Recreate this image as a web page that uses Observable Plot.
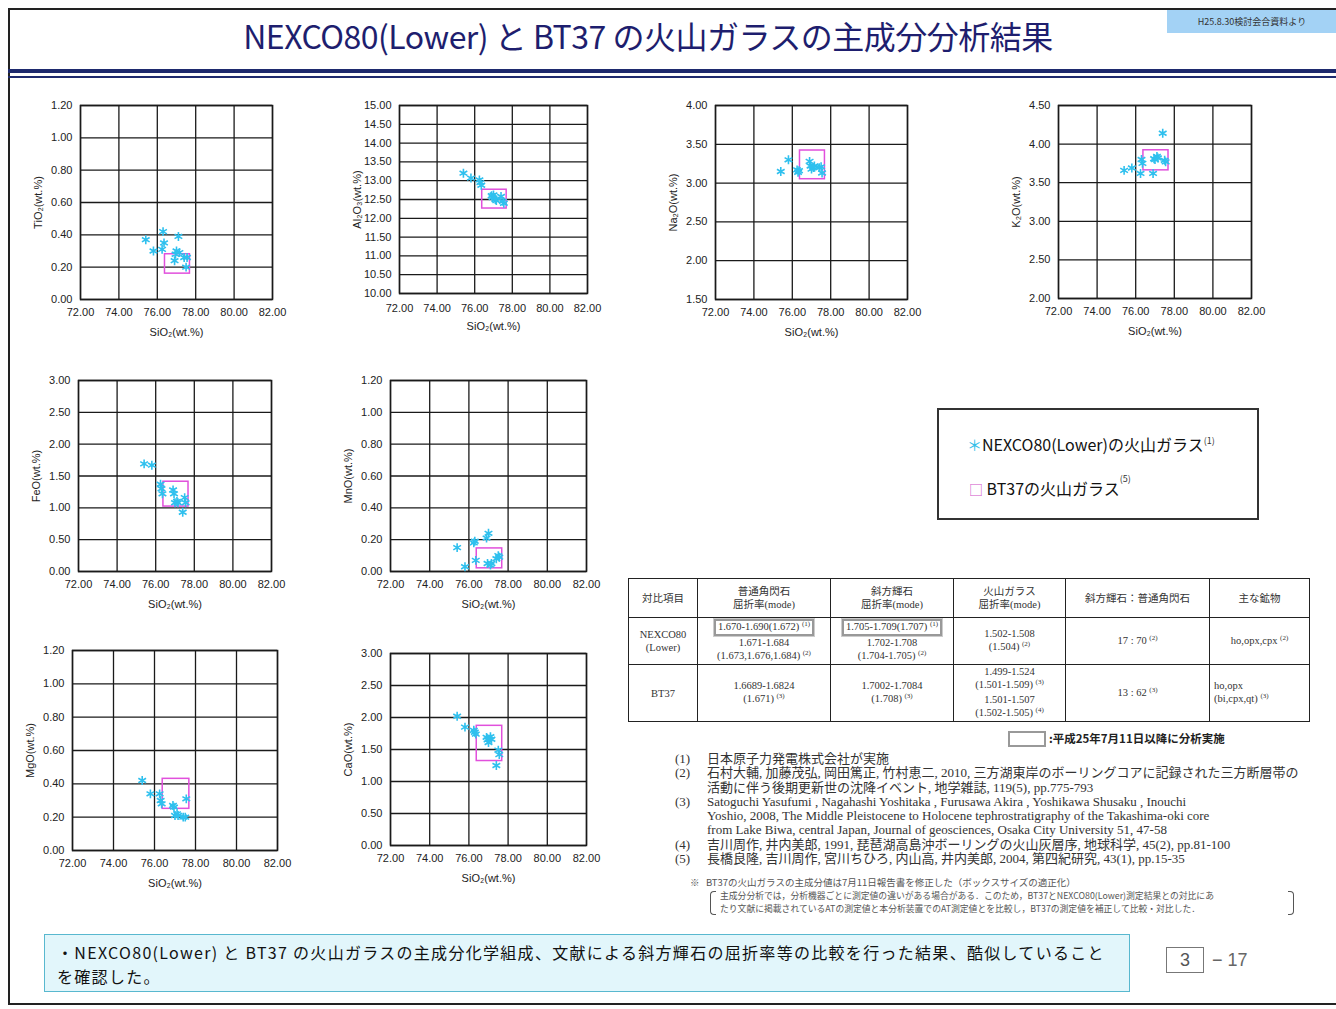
<!DOCTYPE html>
<html><head><meta charset="utf-8">
<script src="https://cdn.jsdelivr.net/npm/d3@7"></script>
<script src="https://cdn.jsdelivr.net/npm/@observablehq/plot@0.6"></script>
<style>
body{margin:0;background:#fff;}
#page{position:relative;width:1336px;height:1009px;overflow:hidden;background:#fff;font-family:"Liberation Sans",Arial,"Noto Sans CJK JP",sans-serif;color:#111;}
.abs{position:absolute;}
#title{left:0;width:1296px;top:12px;text-align:center;font-family:"Noto Sans CJK JP",sans-serif;font-size:32px;color:#1e1e6e;white-space:nowrap;letter-spacing:-0.5px;}
#badge{left:1167px;top:10px;width:170px;height:23px;background:#a3d2f5;font-family:"Noto Sans CJK JP";font-size:9px;line-height:23px;text-align:center;color:#333;}
#legend{left:937px;top:408px;width:318px;height:108px;border:2px solid #333;font-family:"Noto Sans CJK JP";font-size:16px;color:#111;}
.sup{font-size:9px;position:relative;top:-7px;color:#333;}
table#tbl{left:628px;top:578px;width:682px;border-collapse:collapse;font-family:"Liberation Serif","Noto Sans CJK JP",serif;font-size:10.5px;color:#333;line-height:13px;}
#tbl td{border:1.5px solid #222;text-align:center;padding:0;}
#tbl .tsup{font-size:7px;position:relative;top:-4px;}
.hl{display:inline-block;border:2px solid #999;outline:1px solid #ccc;padding:0 2px;line-height:11px;}
#refs{left:675px;top:752px;font-family:"Liberation Serif","Noto Sans CJK JP",serif;font-size:13px;line-height:14.3px;color:#333;white-space:nowrap;}
#refs .n{display:inline-block;width:32px;}
#refs .c{display:inline-block;vertical-align:top;}
#note{left:690px;top:876px;font-family:"Noto Sans CJK JP";font-size:9.5px;color:#555;white-space:nowrap;line-height:13px;}
#bottom{left:44px;top:934px;width:1084px;height:56px;background:#e2f6fb;border:1.5px solid #58b8cf;font-family:"Noto Sans CJK JP";font-size:16px;letter-spacing:1.3px;color:#111;padding:0;}
#bottom .ln{position:absolute;left:12px;white-space:nowrap;height:24px;line-height:24px;}
</style></head><body><div id="page">
<div class="abs" style="left:8px;top:8px;width:1340px;height:997px;border:2px solid #222;box-sizing:border-box;"></div>
<div class="abs" style="left:8px;top:69px;width:1330px;height:4px;background:#1e2a6e;"></div>
<div class="abs" style="left:8px;top:76px;width:1330px;height:1.5px;background:#1e2a6e;"></div>
<div id="title" class="abs">NEXCO80(Lower) と BT37 の火山ガラスの主成分分析結果</div>
<div id="badge" class="abs">H25.8.30検討会合資料より</div>

<div id="legend" class="abs">
 <div class="abs" style="left:28px;top:22px;white-space:nowrap;"><span style="color:#33bfe8;font-size:15px;">＊</span>NEXCO80(Lower)の火山ガラス<span class="sup">(1)</span></div>
 <div class="abs" style="left:30px;top:66px;white-space:nowrap;"><span style="color:#d050c8;font-size:14px;">□</span> BT37の火山ガラス<span class="sup" style="top:-13px;">(5)</span></div>
</div>

<table id="tbl" class="abs">
<colgroup><col style="width:69px"><col style="width:133px"><col style="width:123px"><col style="width:112px"><col style="width:144px"><col style="width:100px"></colgroup>
<tr style="height:39px"><td>対比項目</td><td>普通角閃石<br>屈折率(mode)</td><td>斜方輝石<br>屈折率(mode)</td><td>火山ガラス<br>屈折率(mode)</td><td>斜方輝石：普通角閃石</td><td>主な鉱物</td></tr>
<tr style="height:47px"><td>NEXCO80<br>(Lower)</td>
<td><span class="hl">1.670-1.690(1.672) <span class="tsup">(1)</span></span><br>1.671-1.684<br>(1.673,1.676,1.684) <span class="tsup">(2)</span></td>
<td><span class="hl">1.705-1.709(1.707) <span class="tsup">(1)</span></span><br>1.702-1.708<br>(1.704-1.705) <span class="tsup">(2)</span></td>
<td>1.502-1.508<br>(1.504) <span class="tsup">(2)</span></td>
<td>17 : 70 <span class="tsup">(2)</span></td>
<td>ho,opx,cpx <span class="tsup">(2)</span></td></tr>
<tr style="height:54px"><td>BT37</td>
<td>1.6689-1.6824<br>(1.671) <span class="tsup">(3)</span></td>
<td>1.7002-1.7084<br>(1.708) <span class="tsup">(3)</span></td>
<td>1.499-1.524<br>(1.501-1.509) <span class="tsup">(3)</span><br>1.501-1.507<br>(1.502-1.505) <span class="tsup">(4)</span></td>
<td>13 : 62 <span class="tsup">(3)</span></td>
<td style="text-align:left;padding-left:4px;">ho,opx<br>(bi,cpx,qt) <span class="tsup">(3)</span></td></tr>
</table>
<div class="abs" style="left:1008px;top:731px;width:34px;height:12px;border:2px solid #999;"></div>
<div class="abs" style="left:1049px;top:730px;font-family:'Noto Sans CJK JP';font-size:11.5px;font-weight:bold;color:#222;white-space:nowrap;line-height:17px;">:平成25年7月11日以降に分析実施</div>

<div id="refs" class="abs">
<div><span class="n">(1)</span><span class="c">日本原子力発電株式会社が実施</span></div>
<div><span class="n">(2)</span><span class="c">石村大輔, 加藤茂弘, 岡田篤正, 竹村恵二, 2010, 三方湖東岸のボーリングコアに記録された三方断層帯の<br>活動に伴う後期更新世の沈降イベント, 地学雑誌, 119(5), pp.775-793</span></div>
<div><span class="n">(3)</span><span class="c">Satoguchi Yasufumi , Nagahashi Yoshitaka , Furusawa Akira , Yoshikawa Shusaku , Inouchi<br>Yoshio, 2008, The Middle Pleistocene to Holocene tephrostratigraphy of the Takashima-oki core<br>from Lake Biwa, central Japan, Journal of geosciences, Osaka City University 51, 47-58</span></div>
<div><span class="n">(4)</span><span class="c">吉川周作, 井内美郎, 1991, 琵琶湖高島沖ボーリングの火山灰層序, 地球科学, 45(2), pp.81-100</span></div>
<div><span class="n">(5)</span><span class="c">長橋良隆, 吉川周作, 宮川ちひろ, 内山高, 井内美郎, 2004, 第四紀研究, 43(1), pp.15-35</span></div>
</div>
<div id="note" class="abs">
<div>※&nbsp;&nbsp;&nbsp;BT37の火山ガラスの主成分値は7月11日報告書を修正した（ボックスサイズの適正化）</div>
<div style="padding-left:30px;font-size:8.8px;">主成分分析では，分析機器ごとに測定値の違いがある場合がある．このため，BT37とNEXCO80(Lower)測定結果との対比にあ</div>
<div style="padding-left:30px;font-size:8.8px;">たり文献に掲載されているATの測定値と本分析装置でのAT測定値とを比較し，BT37の測定値を補正して比較・対比した．</div>
</div>
<div class="abs" style="left:710px;top:891px;width:5px;height:22px;border:1.5px solid #555;border-right:none;border-radius:4px 0 0 4px;"></div>
<div class="abs" style="left:1288px;top:891px;width:5px;height:22px;border:1.5px solid #555;border-left:none;border-radius:0 4px 4px 0;"></div>

<div id="bottom" class="abs">
 <div class="ln" style="top:5px;">・NEXCO80(Lower) と BT37 の火山ガラスの主成分化学組成、文献による斜方輝石の屈折率等の比較を行った結果、酷似していること</div>
 <div class="ln" style="top:29px;">を確認した。</div>
</div>
<div class="abs" style="left:1166px;top:947px;width:36px;height:24px;border:1.5px solid #777;text-align:center;font-size:18px;line-height:24px;color:#555;">3</div>
<div class="abs" style="left:1212px;top:947px;font-size:18px;line-height:26px;color:#666;white-space:nowrap;">− 17</div>
</div>
<script>
// NEXCO80(Lower) volcanic glass, major elements (wt.%)
const sio2  = [75.4, 75.8, 76.25, 76.3, 76.35, 76.9, 76.95, 77.0, 77.1, 77.15, 77.4, 77.5, 77.55];
const tio2  = [0.37, 0.30, 0.31, 0.42, 0.35, 0.24, 0.28, 0.30, 0.39, 0.29, 0.26, 0.20, 0.26];
const al2o3 = [13.20, 13.07, 13.02, 12.95, 12.88, 12.60, 12.55, 12.62, 12.50, 12.47, 12.58, 12.45, 12.40];
const na2o  = [3.15, 3.30, 3.17, 3.14, 3.16, 3.28, 3.22, 3.18, 3.20, 3.22, 3.20, 3.21, 3.13];
const k2o   = [3.66, 3.69, 3.62, 3.80, 3.75, 3.62, 3.81, 3.80, 3.84, 3.82, 4.14, 3.79, 3.77];
const feo   = [1.69, 1.67, 1.37, 1.30, 1.22, 1.28, 1.22, 1.08, 1.10, 1.08, 0.93, 1.16, 1.08];
const mno   = [0.15, 0.03, 0.18, 0.19, 0.07, 0.21, 0.05, 0.24, 0.04, 0.05, 0.08, 0.10, 0.09];
const mgo   = [0.42, 0.34, 0.34, 0.30, 0.28, 0.27, 0.26, 0.21, 0.22, 0.21, 0.20, 0.20, 0.31];
const cao   = [2.02, 1.85, 1.80, 1.77, 1.74, 1.69, 1.65, 1.61, 1.70, 1.66, 1.25, 1.49, 1.42];
// BT37 volcanic glass ranges (boxes)
const bt37SiO2  = [76.4, 77.7];
const bt37TiO2  = [0.16, 0.28];
const bt37Al2O3 = [12.26, 12.76];
const bt37Na2O  = [3.05, 3.42];
const bt37K2O   = [3.66, 3.92];
const bt37FeO   = [1.02, 1.41];
const bt37MnO   = [0.02, 0.145];
const bt37MgO   = [0.25, 0.43];
const bt37CaO   = [1.32, 1.87];
// axes
const xTicks = [72, 74, 76, 78, 80, 82];
const yTicksTiO2  = [0, 0.2, 0.4, 0.6, 0.8, 1.0, 1.2];
const yTicksAl2O3 = [10, 10.5, 11, 11.5, 12, 12.5, 13, 13.5, 14, 14.5, 15];
const yTicksNa2O  = [1.5, 2.0, 2.5, 3.0, 3.5, 4.0];
const yTicksK2O   = [2.0, 2.5, 3.0, 3.5, 4.0, 4.5];
const yTicksFeO   = [0, 0.5, 1.0, 1.5, 2.0, 2.5, 3.0];
const yTicksMnO   = [0, 0.2, 0.4, 0.6, 0.8, 1.0, 1.2];
const yTicksMgO   = [0, 0.2, 0.4, 0.6, 0.8, 1.0, 1.2];
const yTicksCaO   = [0, 0.5, 1.0, 1.5, 2.0, 2.5, 3.0];

const page = document.getElementById("page");
const fmt = d3.format(".2f");

function chart(c) {
  const mL = 64, mR = 28, mT = 10, mB = 46;
  const pts = sio2.map((x, i) => ({x, y: c.values[i]}));
  const box = [{x1: bt37SiO2[0], x2: bt37SiO2[1], y1: c.box[0], y2: c.box[1]}];
  const p = Plot.plot({
    width: mL + c.w + mR, height: mT + c.h + mB,
    marginLeft: mL, marginRight: mR, marginTop: mT, marginBottom: mB,
    style: {fontFamily: "'Liberation Sans', Arial, sans-serif", fontSize: "11px", color: "#222", background: "transparent", overflow: "visible"},
    x: {domain: [72, 82]},
    y: {domain: [c.ticks[0], c.ticks[c.ticks.length - 1]]},
    marks: [
      Plot.gridX(xTicks, {stroke: "#1a1a1a", strokeOpacity: 1, strokeWidth: 1.3}),
      Plot.gridY(c.ticks, {stroke: "#1a1a1a", strokeOpacity: 1, strokeWidth: 1.3}),
      Plot.frame({stroke: "#1a1a1a", strokeWidth: 1.5}),
      Plot.axisX({ticks: xTicks, tickFormat: fmt, tickSize: 0, tickPadding: c.xPad, label: "SiO₂(wt.%)", labelAnchor: "center", labelOffset: 36, labelArrow: "none"}),
      Plot.axisY({ticks: c.ticks, tickFormat: fmt, tickSize: 0, tickPadding: 8, label: c.label, labelAnchor: "center", labelOffset: 46, labelArrow: "none"}),
      Plot.rect(box, {x1: "x1", x2: "x2", y1: "y1", y2: "y2", stroke: "#e150dc", strokeWidth: 1.5, fill: "none"}),
      Plot.dot(pts, {x: "x", y: "y", symbol: "asterisk", stroke: "#2fc0ee", r: 4.2, strokeWidth: 1.6})
    ]
  });
  p.style.position = "absolute";
  p.style.left = (c.left - mL) + "px";
  p.style.top = (c.top - mT) + "px";
  page.appendChild(p);
}

chart({label: "TiO₂(wt.%)",  values: tio2,  box: bt37TiO2,  ticks: yTicksTiO2,  left: 80,   top: 105, w: 192, h: 194, xPad: 9});
chart({label: "Al₂O₃(wt.%)", values: al2o3, box: bt37Al2O3, ticks: yTicksAl2O3, left: 399,  top: 105, w: 188, h: 188, xPad: 11});
chart({label: "Na₂O(wt.%)",  values: na2o,  box: bt37Na2O,  ticks: yTicksNa2O,  left: 715,  top: 105, w: 192, h: 194, xPad: 9});
chart({label: "K₂O(wt.%)",   values: k2o,   box: bt37K2O,   ticks: yTicksK2O,   left: 1058, top: 105, w: 193, h: 193, xPad: 9});
chart({label: "FeO(wt.%)",   values: feo,   box: bt37FeO,   ticks: yTicksFeO,   left: 78,   top: 380, w: 193, h: 191, xPad: 9});
chart({label: "MnO(wt.%)",   values: mno,   box: bt37MnO,   ticks: yTicksMnO,   left: 390,  top: 380, w: 196, h: 191, xPad: 9});
chart({label: "MgO(wt.%)",   values: mgo,   box: bt37MgO,   ticks: yTicksMgO,   left: 72,   top: 650, w: 205, h: 200, xPad: 9});
chart({label: "CaO(wt.%)",   values: cao,   box: bt37CaO,   ticks: yTicksCaO,   left: 390,  top: 653, w: 196, h: 192, xPad: 9});
</script>
</body></html>
